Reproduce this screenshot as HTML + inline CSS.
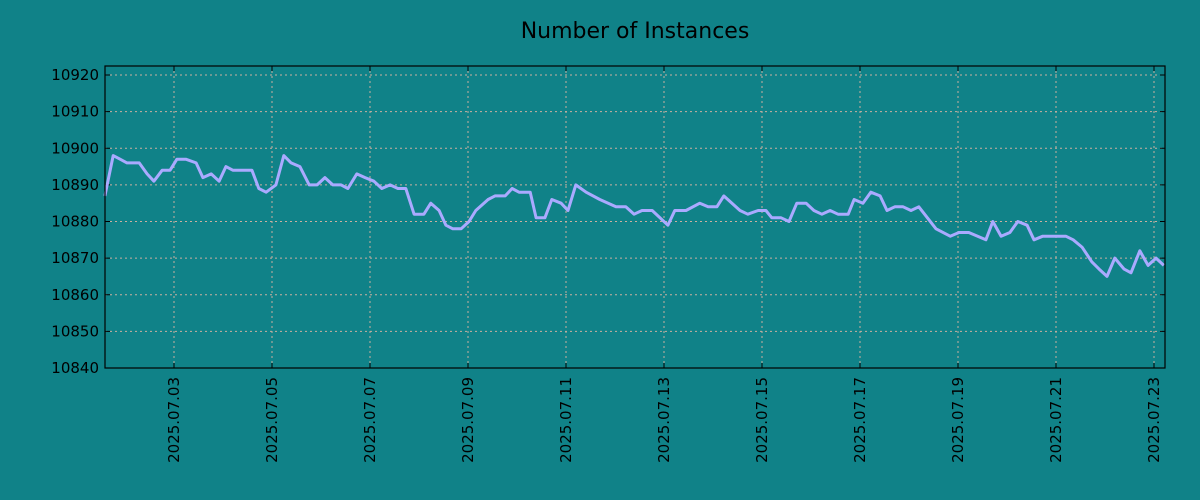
<!DOCTYPE html>
<html><head><meta charset="utf-8"><style>
body{margin:0;background:#108288;}
svg{display:block;font-family:"DejaVu Sans","Liberation Sans",sans-serif;}
</style></head><body>
<svg id="chart" width="1200" height="500">
<rect width="1200" height="500" fill="#108288"/>
<text x="635" y="38" text-anchor="middle" font-size="22" fill="#000">Number of Instances</text>
<g id="grid"></g><g id="axes"></g><g id="series"></g>
<rect x="105" y="66" width="1060" height="302" fill="none" stroke="#000" stroke-width="1.2"/>
</svg>
<script>
// days since 2025-07-01 00:00
const days=[0.59,0.76,0.90,1.04,1.29,1.45,1.59,1.76,1.92,2.06,2.24,2.45,2.59,2.76,2.92,3.06,3.20,3.59,3.73,3.88,4.08,4.24,4.39,4.57,4.76,4.92,5.08,5.24,5.41,5.55,5.73,5.90,6.08,6.24,6.41,6.57,6.73,6.90,7.10,7.24,7.41,7.55,7.69,7.86,8.02,8.16,8.41,8.55,8.76,8.90,9.04,9.27,9.39,9.57,9.71,9.90,10.04,10.20,10.41,10.69,11.02,11.22,11.39,11.55,11.76,12.08,12.22,12.45,12.73,12.90,13.08,13.22,13.55,13.71,13.92,14.08,14.20,14.39,14.55,14.71,14.90,15.06,15.22,15.39,15.55,15.76,15.88,16.06,16.22,16.41,16.55,16.71,16.88,17.04,17.20,17.55,17.84,18.02,18.22,18.57,18.71,18.88,19.06,19.22,19.41,19.55,19.73,20.20,20.35,20.53,20.73,20.88,21.04,21.20,21.39,21.53,21.71,21.88,22.04,22.20];
const instances=[10887,10898,10897,10896,10896,10893,10891,10894,10894,10897,10897,10896,10892,10893,10891,10895,10894,10894,10889,10888,10890,10898,10896,10895,10890,10890,10892,10890,10890,10889,10893,10892,10891,10889,10890,10889,10889,10882,10882,10885,10883,10879,10878,10878,10880,10883,10886,10887,10887,10889,10888,10888,10881,10881,10886,10885,10883,10890,10888,10886,10884,10884,10882,10883,10883,10879,10883,10883,10885,10884,10884,10887,10883,10882,10883,10883,10881,10881,10880,10885,10885,10883,10882,10883,10882,10882,10886,10885,10888,10887,10883,10884,10884,10883,10884,10878,10876,10877,10877,10875,10880,10876,10877,10880,10879,10875,10876,10876,10875,10873,10869,10867,10865,10870,10867,10866,10872,10868,10870,10868];
const yTicks=[10840,10850,10860,10870,10880,10890,10900,10910,10920];
const xTickDays=[2,4,6,8,10,12,14,16,18,20,22];
const xTickLabels=["2025.07.03","2025.07.05","2025.07.07","2025.07.09","2025.07.11","2025.07.13","2025.07.15","2025.07.17","2025.07.19","2025.07.21","2025.07.23"];
const X=d=>76+d*49;
const Y=v=>368-(v-10840)*293/80;
const NS="http://www.w3.org/2000/svg";
const grid=document.getElementById('grid'),axes=document.getElementById('axes'),ser=document.getElementById('series');
function mk(tag,a,p){const e=document.createElementNS(NS,tag);for(const k in a)e.setAttribute(k,a[k]);p.appendChild(e);return e;}
yTicks.forEach(v=>{const y=Y(v);
 if(v>10840){const g=mk('line',{x1:105,x2:1165,y1:y,y2:y,stroke:'#c8b0a0','stroke-width':1,'stroke-dasharray':'2,3'},grid);
 
 }
 const t1=mk('line',{x1:105,x2:110,y1:y,y2:y,stroke:'#000'},axes);
 
 
 const t2=mk('line',{x1:1160,x2:1165,y1:y,y2:y,stroke:'#000'},axes);
 
 
 const l=mk('text',{x:99,y:y+5,'text-anchor':'end','font-size':15,fill:'#000'},axes);l.textContent=v;
 
 
});
xTickDays.forEach((d,i)=>{const x=X(d);
 const g=mk('line',{x1:x,x2:x,y1:66,y2:368,stroke:'#c8b0a0','stroke-width':1,'stroke-dasharray':'2,3'},grid);
 
 
 const t=mk('line',{x1:x,x2:x,y1:363,y2:368,stroke:'#000'},axes);
 
 
 const t2=mk('line',{x1:x,x2:x,y1:66,y2:71,stroke:'#000'},axes);
 
 
 const l=mk('text',{x:0,y:0,'text-anchor':'end','font-size':15,fill:'#000',transform:`translate(${x+5},377) rotate(-90)`},axes);l.textContent=xTickLabels[i];
 
 
});
const pts=days.map((d,i)=>X(d).toFixed(1)+','+Y(instances[i]).toFixed(1)).join(' ');
const line=mk('polyline',{points:pts,fill:'none',stroke:'#aaaaff','stroke-width':3,'stroke-linejoin':'round'},ser);


</script>
</body></html>
